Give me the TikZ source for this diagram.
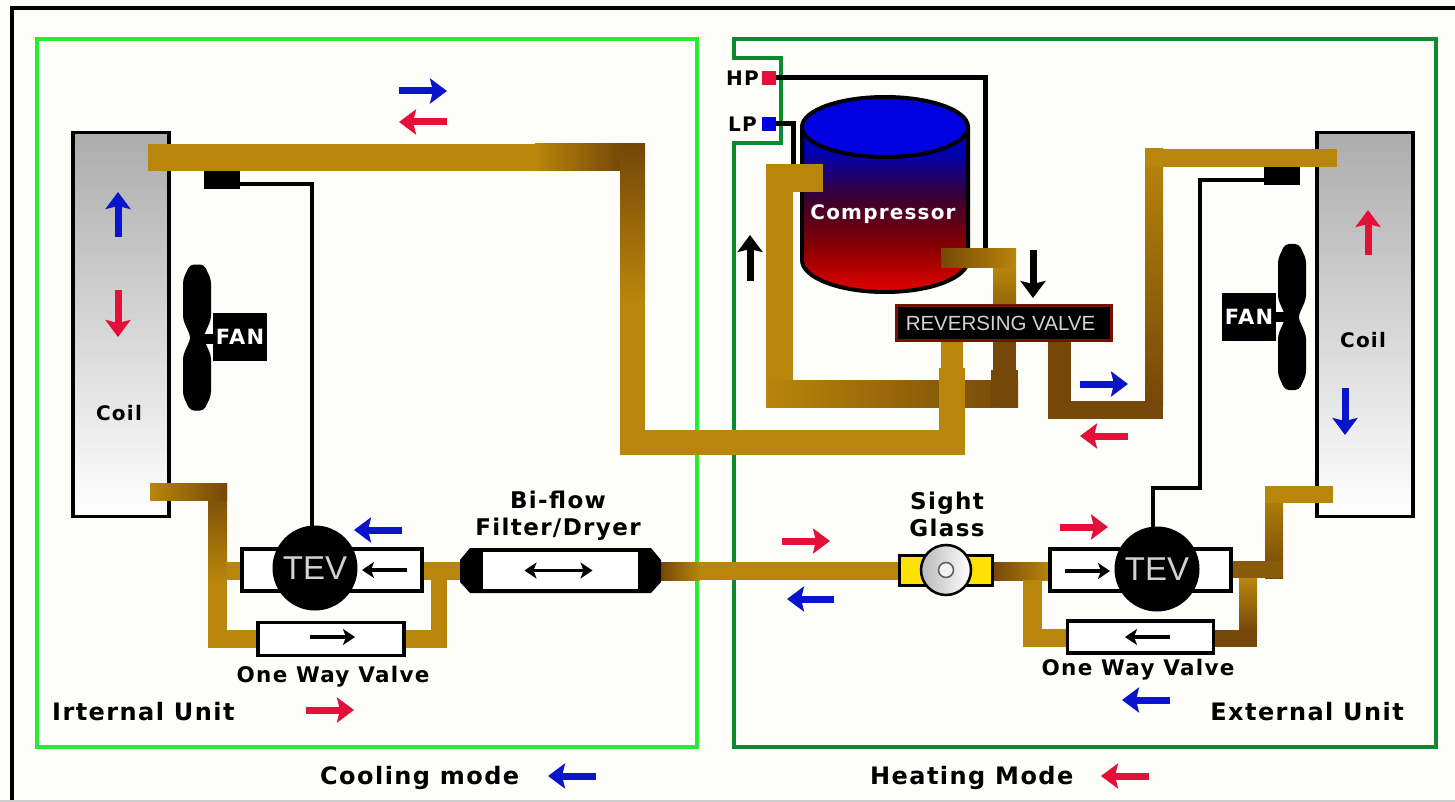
\documentclass[tikz,border=0pt]{standalone}
\usepackage{fontspec}
\setmainfont[LetterSpace=6]{DejaVu Sans}
\newfontfamily\plainfont{Liberation Sans}
\usetikzlibrary{arrows.meta}
\definecolor{paper}{HTML}{FDFDF9}
\definecolor{pipegold}{HTML}{B8860B}
\definecolor{pipedark}{HTML}{754708}
\definecolor{flowred}{HTML}{E5103A}
\definecolor{flowblue}{HTML}{0A14CC}
\definecolor{unitlight}{HTML}{22F02E}
\definecolor{unitdark}{HTML}{0E8A2E}
\pgfdeclareverticalshading{compshade}{100bp}{
  color(0bp)=(red!90!black); color(25bp)=(red!90!black); color(36bp)=(red!55!black);
  color(49bp)=(blue!45!red!42!black); color(61bp)=(blue!70!black); color(75bp)=(blue!85!black);
  color(100bp)=(blue!85!black)}
\tikzset{
    caption/.style     = {font=\bfseries\fontsize{24}{26}\selectfont, inner sep=0pt},
    smalltext/.style   = {font=\bfseries\fontsize{20}{26}\selectfont, inner sep=0pt, align=center},
    valvetext/.style   = {font=\bfseries\fontsize{21.5}{26}\selectfont, inner sep=0pt},
    bigtext/.style     = {font=\bfseries\fontsize{23}{26}\selectfont, inner sep=0pt, align=center},
    coil/.style        = {draw, line width=3.5pt, minimum width=96pt, minimum height=384pt,
                          top color=gray!65, bottom color=white, inner sep=0pt},
    valvebox/.style    = {draw, line width=3.5pt, fill=white, inner sep=0pt},
    tev/.style         = {circle, fill=black, minimum size=85pt, inner sep=0pt, text=gray!35,
                          font=\plainfont\fontsize{33}{33}\selectfont},
    bulb/.style        = {fill=black, minimum width=36pt, minimum height=18pt, inner sep=0pt},
    fanbox/.style      = {fill=black, minimum width=54pt, minimum height=48pt, inner sep=0pt,
                          text=white, font=\bfseries\fontsize{21}{21}\selectfont},
    capline/.style     = {line width=3.5pt},
    gauge/.style       = {line width=5pt},
    plainpipe/.style   = {fill=pipegold},
    darkpipe/.style    = {fill=pipedark},
    pipeR/.style       = {left color=pipegold, right color=pipedark},
    pipeL/.style       = {left color=pipedark, right color=pipegold},
    pipeD/.style       = {top color=pipegold, bottom color=pipedark},
    pipeU/.style       = {top color=pipedark, bottom color=pipegold},
    flow/.style        = {line width=7pt, -{Stealth[length=17pt,width=25pt,inset=3pt]}},
    inflow/.style      = {line width=3.5pt, -{Stealth[length=12pt,width=16pt,inset=3pt]}},
  }
\begin{document}
\begin{tikzpicture}[x=1pt,y=-1pt]
  \useasboundingbox (0,0) rectangle (1455,802);
  \fill[paper] (0,0) rectangle (1455,802);

  % outer frame, open on the right and at the bottom
  \draw[line width=4pt] (12,802) -- (12,8) -- (1455,8);
  \draw[gray!40,line width=1.5pt] (0,801) -- (1455,801);

  % the two unit outlines
  \draw[unitlight,line width=4.5pt] (37,39) rectangle (697,747);
  \draw[unitdark,line width=3.5pt] (734,143) -- (734,747) -- (1436,747) -- (1436,39)
    -- (734,39) -- (734,58) -- (781,58) -- (781,143) -- cycle;

  % coils
  \node[coil] (coilL) at (121,324.5) {};
  \node[coil] (coilR) at (1365,324.5) {};
  \node[smalltext] (coilLtxt) at (119,413) {Coil};
  \node[smalltext] (coilRtxt) at (1363,340) {Coil};

  % compressor
  \path[shading=compshade] (802,127) -- (802,260)
    arc[start angle=180,end angle=360,x radius=83pt,y radius=32pt] -- (968,127)
    arc[start angle=0,end angle=180,x radius=83pt,y radius=30pt] -- cycle;
  \draw[line width=4pt] (802,127) -- (802,260)
    arc[start angle=180,end angle=360,x radius=83pt,y radius=32pt] -- (968,127);
  \draw[line width=4pt,fill=blue!88!black] (885,127) circle[x radius=83pt,y radius=30pt];
  \node[smalltext,text=white] (comptxt) at (883,214) {Compressor};

  % gauge points and their lines
  \node[fill=flowred,minimum size=14pt,inner sep=0pt] (hpS) at (769,78) {};
  \node[fill=blue!90!black,minimum size=14pt,inner sep=0pt] (lpS) at (769,124) {};
  \node[smalltext,anchor=east] (hpT) at (759,78) {HP};
  \node[smalltext,anchor=east] (lpT) at (757,124) {LP};
  \coordinate (hpEnd) at (985,252);
  \coordinate (lpEnd) at (793,166);
  \draw[gauge] (hpS.east) -| (hpEnd);
  \draw[gauge] (lpS.east) -| (lpEnd);

  % left side pipework
  \path[plainpipe] (148,144) rectangle (535,171);
  \path[pipeR] (535,144) rectangle (622,171);
  \path[pipeU] (620,144) rectangle (645,300);
  \path[plainpipe] (620,300) rectangle (645,455);
  \path[plainpipe] (620,430) rectangle (965,455);
  \path[plainpipe] (939,368) rectangle (965,455);
  \path[plainpipe] (941,340) rectangle (963,368);
  \path[pipeU] (208,483) rectangle (227,580);
  \path[pipeR] (150,483) rectangle (227,500);
  \path[plainpipe] (208,580) rectangle (227,648);
  \path[plainpipe] (208,630) rectangle (258,648);
  \path[plainpipe] (227,562) rectangle (242,580);
  \path[plainpipe] (423,562) rectangle (461,580);
  \path[plainpipe] (431,580) rectangle (447,648);
  \path[plainpipe] (405,630) rectangle (447,648);
  \path[pipeL] (661,562) rectangle (700,580);
  \path[plainpipe] (700,562) rectangle (900,580);

  % suction and discharge lines
  \path[plainpipe] (766,164) rectangle (823,192);
  \path[plainpipe] (766,164) rectangle (793,380);
  \path[pipeR] (766,380) rectangle (1018,407);
  \path[pipeD] (993,267) rectangle (1016,340);
  \path[darkpipe] (993,340) rectangle (1016,372);
  \path[darkpipe] (991,370) rectangle (1018,407);
  \path[pipeL] (941,249) rectangle (1016,267);
  \path[plainpipe] (941,340) rectangle (963,380);
  \path[plainpipe] (939,368) rectangle (965,430);

  % right side pipework
  \path[darkpipe] (1048,341) rectangle (1071,419);
  \path[darkpipe] (1048,401) rectangle (1163,419);
  \path[pipeD] (1145,149) rectangle (1163,405);
  \path[plainpipe] (1145,149) rectangle (1337,167);
  \path[pipeL] (992,562) rectangle (1050,580);
  \path[plainpipe] (1023,580) rectangle (1042,647);
  \path[plainpipe] (1023,629) rectangle (1068,647);
  \path[pipeD] (1265,486) rectangle (1283,578);
  \path[plainpipe] (1265,486) rectangle (1333,503);
  \path[fill=pipedark!70!pipegold] (1231,561) rectangle (1283,578);
  \path[pipeD] (1239,578) rectangle (1257,632);
  \path[darkpipe] (1214,630) rectangle (1257,647);

  % reversing valve on top of its pipes
  \node[draw=pipedark!40!red!60!black,line width=3pt,fill=black,minimum width=215pt,minimum height=35pt,
        inner sep=0pt,text=gray!35,font=\plainfont\fontsize{20.5}{21}\selectfont] (revvalve)
        at (1003.5,323) {\kern-6pt REVERSING VALVE};

  % thermal bulbs and capillaries
  \node[bulb] (bulbL) at (222,180) {};
  \node[bulb] (bulbR) at (1282,176) {};
  \coordinate (capLa) at (240,184);
  \coordinate (capLb) at (312,530);
  \coordinate (capRa) at (1264,180);
  \coordinate (capRb) at (1200,488);
  \coordinate (capRc) at (1153,530);
  \draw[capline] (capLa) -| (capLb);
  \draw[capline] (capRa) -| (capRb) -| (capRc);

  % fans, blades drawn first
  \foreach \fx/\fy in {197/337.5, 1292/317} {
    \fill[shift={(\fx,\fy)},rounded corners=4pt] (-7,-73) -- (7,-73) -- (14,-58) -- (14,-18) -- (6,0)
      -- (14,18) -- (14,58) -- (7,73) -- (-7,73) -- (-14,58) -- (-14,18) -- (-6,0) -- (-14,-18)
      -- (-14,-58) -- cycle;
  }
  \fill (197,334) rectangle (215,344);
  \fill (1274,312) rectangle (1292,322);
  \node[fanbox] (fanL) at (240,337) {FAN};
  \node[fanbox] (fanR) at (1249,317) {FAN};

  % expansion valves and one way valves
  \node[valvebox,minimum width=180pt,minimum height=42pt] (boxL) at (332,570) {};
  \node[valvebox,minimum width=181pt,minimum height=42pt] (boxR) at (1140.5,570) {};
  \node[tev] (tevL) at (315,568) {TEV};
  \node[tev] (tevR) at (1157,569) {TEV};
  \node[valvebox,minimum width=146pt,minimum height=33pt] (oneL) at (331,639) {};
  \node[valvebox,minimum width=146pt,minimum height=32pt] (oneR) at (1140.5,637) {};
  \node[valvetext] (oneLtxt) at (333,677) {One Way Valve};
  \node[valvetext] (oneRtxt) at (1138,670) {One Way Valve};

  % filter dryer
  \fill (460,560) -- (470,548) -- (651,548) -- (661,560) -- (661,582) -- (651,593) -- (470,593)
    -- (460,582) -- cycle;
  \node[fill=white,minimum width=155pt,minimum height=37pt,inner sep=0pt] (filtermid) at (560.5,570.5) {};
  \node[bigtext] (filtertxt) at (558,516) {Bi-flow\\[1pt]Filter/Dryer};
  \draw[inflow,{Stealth[length=12pt,width=16pt,inset=3pt]}-{Stealth[length=12pt,width=16pt,inset=3pt]}]
    (filtermid.center)+(-36,0) -- +(32,0);

  % sight glass
  \node[draw,line width=2.5pt,fill=yellow!85!orange,minimum width=93pt,minimum height=30pt,
        inner sep=0pt] (sightbody) at (946,570.5) {};
  \node[circle,draw,line width=2.5pt,left color=gray!55,right color=white,minimum size=50pt,
        inner sep=0pt] (sightglass) at (946,570) {};
  \node[circle,draw=gray!70!black,line width=1.5pt,fill=gray!10,minimum size=15pt,inner sep=0pt]
    (sighteye) at (946,570) {};
  \node[bigtext] (sighttxt) at (947,514) {Sight\\[1pt]Glass};

  % small arrows inside the valves
  \foreach \xa/\ya/\xb/\yb in {407/570/362/570, 310/637/355/637, 1065/571/1110/571, 1170/637/1125/637} {
    \draw[inflow] (\xa,\ya) -- (\xb,\yb);
  }

  % flow arrows
  \foreach \xa/\ya/\xb/\yb in {399/91/447/91, 118/237/118/192, 1080/384/1128/384, 402/530/354/530,
                               834/599/787/599, 1170/700/1122/700, 1345/388/1345/435, 596/776/548/776} {
    \draw[flow,flowblue] (\xa,\ya) -- (\xb,\yb);
  }
  \foreach \xa/\ya/\xb/\yb in {447/122/399/122, 118/290/118/337, 1128/436/1080/436, 1060/527/1108/527,
                               782/541/830/541, 306/710/354/710, 1368/255/1368/210, 1149/776/1101/776} {
    \draw[flow,flowred] (\xa,\ya) -- (\xb,\yb);
  }
  \foreach \xa/\ya/\xb/\yb in {750/281/750/235, 1033/250/1033/298} {
    \draw[flow,black] (\xa,\ya) -- (\xb,\yb);
  }

  % captions
  \node[caption,anchor=west] (intT) at (52,712) {Irternal Unit};
  \node[caption,anchor=east] (extT) at (1404,712) {External Unit};
  \node[caption,anchor=west] (coolT) at (320,778) {Cooling mode};
  \node[caption,anchor=west] (heatT) at (870,778) {Heating Mode};
\end{tikzpicture}
\end{document}
